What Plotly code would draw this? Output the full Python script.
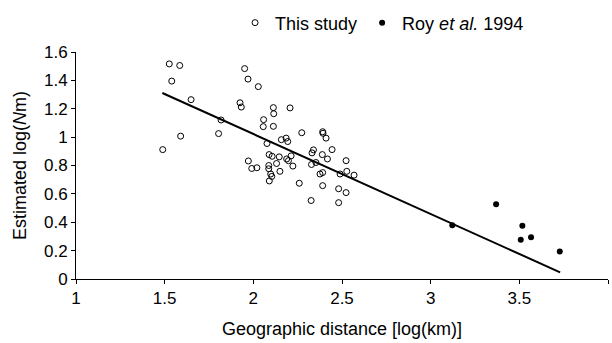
import plotly.graph_objects as go

# This study (open circles)
study_x = [1.489, 1.526, 1.540, 1.585, 1.590, 1.649, 1.804, 1.818, 1.925, 1.932,
           1.951, 1.970, 1.972, 1.991, 2.020, 2.028, 2.056, 2.058, 2.077, 2.089,
           2.106, 2.087, 2.087, 2.098, 2.104, 2.090, 2.113, 2.115, 2.113, 2.131,
           2.146, 2.150, 2.158, 2.185, 2.194, 2.188, 2.198, 2.213, 2.207, 2.223,
           2.259, 2.273, 2.328, 2.331, 2.339, 2.353, 2.326, 2.376, 2.391, 2.391,
           2.389, 2.391, 2.393, 2.410, 2.418, 2.444, 2.481, 2.481, 2.489, 2.523,
           2.527, 2.523, 2.568]
study_y = [0.912, 1.516, 1.395, 1.505, 1.007, 1.264, 1.025, 1.121, 1.242, 1.212,
           1.483, 1.409, 0.832, 0.779, 0.784, 1.356, 1.074, 1.123, 0.955, 0.877,
           0.865, 0.800, 0.777, 0.740, 0.723, 0.691, 1.208, 1.165, 1.076, 0.814,
           0.861, 0.759, 0.982, 0.993, 0.969, 0.846, 0.834, 0.868, 1.206, 0.796,
           0.675, 1.031, 0.807, 0.889, 0.910, 0.821, 0.553, 0.740, 0.750, 0.658,
           0.877, 1.038, 1.027, 0.993, 0.846, 0.912, 0.636, 0.538, 0.740, 0.834,
           0.759, 0.609, 0.732]

# Roy et al. 1994 (filled circles)
roy_x = [3.122, 3.369, 3.517, 3.508, 3.566, 3.728]
roy_y = [0.378, 0.526, 0.376, 0.276, 0.294, 0.193]

# Regression line
fit_x = [1.487, 3.730]
fit_y = [1.311, 0.047]

x_ticks = [1, 1.5, 2, 2.5, 3, 3.5, 4]
y_ticks = [0, 0.2, 0.4, 0.6, 0.8, 1, 1.2, 1.4, 1.6]

FONT = "Liberation Sans, Arial, sans-serif"

fig = go.Figure()
fig.add_trace(go.Scatter(
    x=fit_x, y=fit_y, mode="lines", line=dict(color="black", width=2),
    showlegend=False, hoverinfo="skip"))
fig.add_trace(go.Scatter(
    x=study_x, y=study_y, mode="markers", name="This study",
    marker=dict(symbol="circle-open", size=6, color="black", line=dict(width=1, color="black"))))
fig.add_trace(go.Scatter(
    x=roy_x, y=roy_y, mode="markers", name="Roy <i>et al.</i> 1994",
    marker=dict(symbol="circle", size=6, color="black")))

fig.update_layout(
    width=612, height=343,
    margin=dict(l=76, r=4, t=45, b=64),
    paper_bgcolor="white", plot_bgcolor="white",
    font=dict(family=FONT, size=17, color="black"),
    showlegend=True,
    legend=dict(orientation="h", x=0.299, y=1.128, xanchor="left", yanchor="middle",
                font=dict(size=18, family=FONT), itemwidth=30,
                bgcolor="rgba(0,0,0,0)", tracegroupgap=0),
)
fig.update_xaxes(
    range=[1, 4], tickvals=x_ticks, ticktext=[str(v) for v in x_ticks],
    showgrid=False, zeroline=False, showline=True, linecolor="black", linewidth=1,
    ticks="outside", ticklen=4, tickcolor="black", tickfont=dict(size=17),
    title=dict(text="Geographic distance [log(km)]", font=dict(size=18), standoff=14),
)
fig.update_yaxes(
    range=[0, 1.6], tickvals=y_ticks, ticktext=[("%g" % v) for v in y_ticks],
    showgrid=False, zeroline=False, showline=True, linecolor="black", linewidth=1,
    ticks="outside", ticklen=4, tickcolor="black", tickfont=dict(size=17),
    title=dict(text="Estimated log(<i>N</i>m)", font=dict(size=18), standoff=12),
)

fig.write_html("out.html")
